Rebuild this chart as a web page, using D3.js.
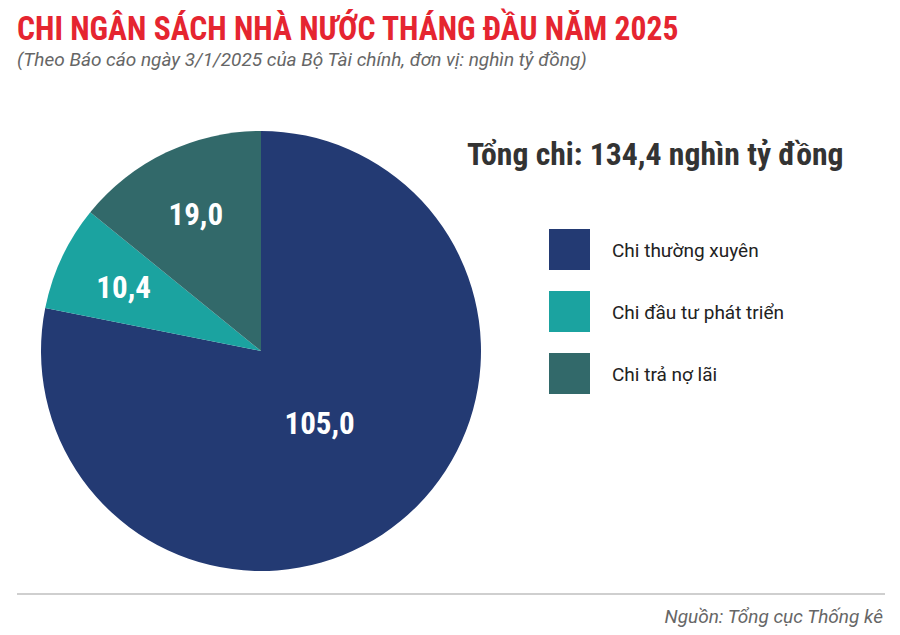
<!DOCTYPE html>
<html>
<head>
<meta charset="utf-8">
<script src="https://cdn.jsdelivr.net/npm/d3@7"></script>
<style>
  body { margin: 0; background: #fff; }
  text { font-family: Roboto, "Noto Sans", sans-serif; }
  .cond { font-family: "Roboto Condensed", Roboto, sans-serif; }
</style>
</head>
<body>
<script>
let w = 900;
let h = 635;

// data
var categories = ["Chi thường xuyên", "Chi đầu tư phát triển", "Chi trả nợ lãi"];
var values = [105.0, 10.4, 19.0];
var colors = ["#233a73", "#1ba3a0", "#32696a"];
var total = 134.4;

var fmt = v => d3.format(".1f")(v).replace(".", ",");

var svg = d3.select("body").append("svg")
    .attr("width", w)
    .attr("height", h);

// title + subtitle
svg.append("text")
    .attr("class", "cond")
    .attr("transform", "translate(17,40) scale(0.93,1)")
    .attr("font-size", 34)
    .attr("font-weight", 700)
    .attr("fill", "#e52530")
    .text("CHI NGÂN SÁCH NHÀ NƯỚC THÁNG ĐẦU NĂM 2025");

svg.append("text")
    .attr("x", 17).attr("y", 66)
    .attr("font-size", 19)
    .attr("font-style", "italic")
    .attr("fill", "#666")
    .text("(Theo Báo cáo ngày 3/1/2025 của Bộ Tài chính, đơn vị: nghìn tỷ đồng)");

// pie
var cx = 261, cy = 351, r = 220;
var pie = d3.pie().sort(null).value(d => d);
var arc = d3.arc().innerRadius(0).outerRadius(r);
var bigLabel = d3.arc().innerRadius(r * 0.42).outerRadius(r * 0.42);
var smallLabel = d3.arc().innerRadius(r * 0.69).outerRadius(r * 0.69);

var g = svg.append("g").attr("transform", `translate(${cx},${cy})`);
var arcs = pie(values);

g.selectAll("path").data(arcs).enter().append("path")
    .attr("d", arc)
    .attr("fill", (d, i) => colors[i]);

g.selectAll("text.lbl").data(arcs).enter().append("text")
    .attr("class", "lbl cond")
    .attr("transform", d => {
        var p = (d.value / total > 0.5 ? bigLabel : smallLabel).centroid(d);
        return `translate(${p[0]},${p[1]})`;
    })
    .attr("text-anchor", "middle")
    .attr("dy", "0.36em")
    .attr("font-size", 31)
    .attr("font-weight", 700)
    .attr("fill", "#fff")
    .text(d => fmt(d.value));

// total
svg.append("text")
    .attr("class", "cond")
    .attr("x", 467).attr("y", 165)
    .attr("font-size", 31.7)
    .attr("font-weight", 700)
    .attr("fill", "#333")
    .text("Tổng chi: " + fmt(total) + " nghìn tỷ đồng");

// legend
var legend = svg.append("g").attr("transform", "translate(549,229)");
var item = legend.selectAll("g").data(categories).enter().append("g")
    .attr("transform", (d, i) => `translate(0,${i * 62})`);
item.append("rect")
    .attr("width", 41)
    .attr("height", 41)
    .attr("fill", (d, i) => colors[i]);
item.append("text")
    .attr("x", 63).attr("y", 28)
    .attr("font-size", 19)
    .attr("fill", "#222")
    .text(d => d);

// footer
svg.append("line")
    .attr("x1", 17).attr("x2", 885)
    .attr("y1", 594).attr("y2", 594)
    .attr("stroke", "#cfcfcf")
    .attr("stroke-width", 2);

svg.append("text")
    .attr("x", 883).attr("y", 623)
    .attr("text-anchor", "end")
    .attr("font-size", 19)
    .attr("font-style", "italic")
    .attr("fill", "#666")
    .text("Nguồn: Tổng cục Thống kê");
</script>
</body>
</html>
